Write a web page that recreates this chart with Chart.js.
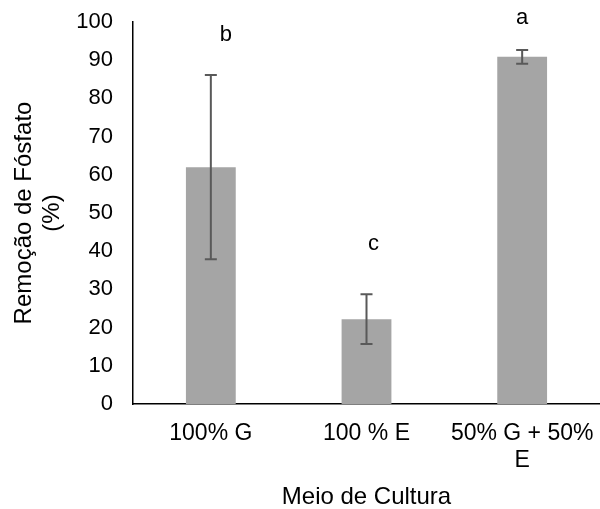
<!DOCTYPE html>
<html lang="pt">
<head>
  <meta charset="UTF-8">
  <title>Remoção de Fósfato</title>
  <script src="https://cdn.jsdelivr.net/npm/chart.js@4.4.1/dist/chart.umd.min.js"></script>
  <style>
    html, body { margin: 0; padding: 0; background: #fff; }
    #wrap { width: 600px; height: 509px; }
  </style>
</head>
<body>
  <div id="wrap"><canvas id="chart"></canvas></div>

  <script>
    // dados
    const categorias = ['100% G', '100 % E', ['50% G + 50%', 'E']];
    const remocao = [62.0, 22.2, 90.9];
    const desvio = [24.1, 6.5, 1.8];
    const letras = ['b', 'c', 'a'];

    const fonte = 'Arial, "Liberation Sans", sans-serif';

    // barras de erro
    const errorBars = {
      id: 'errorBars',
      afterDatasetsDraw(chart) {
        const ctx = chart.ctx;
        const y = chart.scales.y;
        const meta = chart.getDatasetMeta(0);
        ctx.save();
        ctx.strokeStyle = '#595959';
        ctx.lineWidth = 2;
        meta.data.forEach((bar, i) => {
          const x = bar.x;
          const top = y.getPixelForValue(remocao[i] + desvio[i]);
          const bot = y.getPixelForValue(remocao[i] - desvio[i]);
          ctx.beginPath();
          ctx.moveTo(x, top); ctx.lineTo(x, bot);
          ctx.moveTo(x - 6, top); ctx.lineTo(x + 6, top);
          ctx.moveTo(x - 6, bot); ctx.lineTo(x + 6, bot);
          ctx.stroke();
        });
        ctx.restore();
      }
    };

    // letras de significância
    const letrasPlugin = {
      id: 'letras',
      afterDatasetsDraw(chart, args, opts) {
        const ctx = chart.ctx;
        const y = chart.scales.y;
        const meta = chart.getDatasetMeta(0);
        ctx.save();
        ctx.fillStyle = '#000';
        ctx.font = '22px ' + fonte;
        ctx.textAlign = 'center';
        ctx.textBaseline = 'middle';
        meta.data.forEach((bar, i) => {
          ctx.fillText(letras[i], bar.x + opts.dx[i], y.getPixelForValue(opts.at[i]));
        });
        ctx.restore();
      }
    };

    new Chart(document.getElementById('chart'), {
      type: 'bar',
      data: {
        labels: categorias,
        datasets: [{
          data: remocao,
          backgroundColor: '#a5a5a5',
          borderWidth: 0,
          barPercentage: 0.8,
          categoryPercentage: 0.4
        }]
      },
      options: {
        responsive: true,
        maintainAspectRatio: false,
        animation: false,
        layout: { padding: { left: 0, right: 0, top: 22, bottom: 0 } },
        plugins: {
          legend: { display: false },
          tooltip: { enabled: false },
          letras: { at: [96.6, 42, 101], dx: [15, 7, 0] }
        },
        scales: {
          x: {
            grid: { display: false, drawTicks: false },
            border: { display: true, color: '#000', width: 1.5 },
            ticks: {
              color: '#000',
              font: { family: fonte, size: 23, lineHeight: 1.17 },
              padding: 16,
              maxRotation: 0,
              autoSkip: false
            },
            title: {
              display: true,
              text: 'Meio de Cultura',
              color: '#000',
              font: { family: fonte, size: 24, lineHeight: 1.17 },
              padding: { top: 0, bottom: -2 }
            },
            afterFit(scale) {
              scale.height = 105;
              scale.paddingLeft = 0;
              scale.paddingRight = 0;
            }
          },
          y: {
            min: 0,
            max: 100,
            grid: { display: false, drawTicks: false },
            border: { display: true, color: '#000', width: 1.5 },
            ticks: {
              stepSize: 10,
              color: '#000',
              font: { family: fonte, size: 22 },
              padding: 20
            },
            title: {
              display: true,
              text: ['Remoção de Fósfato', '(%)'],
              color: '#000',
              font: { family: fonte, size: 24, lineHeight: 1.17 },
              padding: { top: 10, bottom: 0 }
            },
            afterFit(scale) {
              scale.width = 133;
              scale.paddingTop = 0;
              scale.paddingBottom = 0;
            }
          }
        }
      },
      plugins: [errorBars, letrasPlugin]
    });
  </script>
</body>
</html>
